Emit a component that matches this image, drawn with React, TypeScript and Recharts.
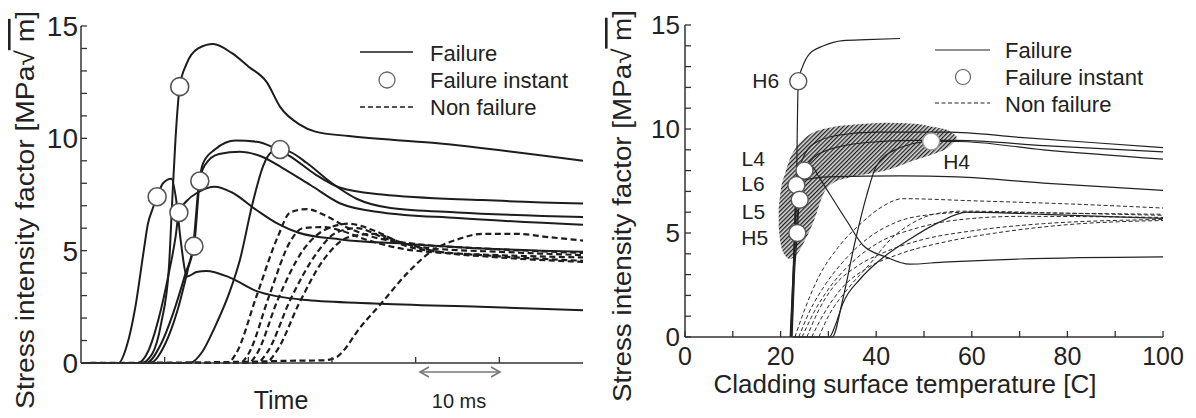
import React from "react";
import { ComposedChart, Line, Scatter, Area, XAxis, YAxis } from "recharts";

type Pt = [number, number];

const FONT = '"Liberation Sans", Arial, Helvetica, sans-serif';
const INK = "#1d1d1d";

// ---------- left panel: stress intensity factor vs time [ms] ----------
const timeTicksBottom = [10, 20, 30, 40, 50];
const timeTicksTop = [15, 30, 45];
const kTicks = [0, 1, 2, 3, 4, 5, 6, 7, 8, 9, 10, 11, 12, 13, 14, 15];
const kTicksQuarter = [3.75, 7.5, 11.25];

const timeH6: Pt[] = [[0, 0], [7.2, 0], [8.5, 0.4], [9.6, 1.8], [10.5, 4.2], [10.9, 7.2], [11.3, 10], [11.8, 12.3], [12.6, 13.3], [14, 14.0], [15.8, 14.2], [18, 13.8], [20, 13.2], [22.2, 12.5], [23.8, 11.4], [26.2, 10.6], [28, 10.3], [32, 10.1], [42, 9.8], [60, 9.0]];
const timeS2: Pt[] = [[0, 0], [7.8, 0], [9.5, 0.8], [11, 2.2], [12.5, 4], [13.4, 5.2], [14.1, 8.0], [14.6, 8.9], [16, 9.5], [18.5, 9.9], [21, 9.85], [23, 9.6], [25, 9.2], [28, 8.4], [31, 7.8], [36, 7.5], [48, 7.25], [60, 7.1]];
const timeS3: Pt[] = [[0, 0], [8.3, 0], [10, 0.8], [11.5, 2.3], [12.8, 4.2], [13.6, 5.5], [14.2, 8.1], [14.8, 8.8], [16.5, 9.3], [19, 9.4], [21.5, 9.2], [24, 8.7], [27.5, 7.9], [31, 7.1], [36, 6.7], [45, 6.45], [60, 6.15]];
const timeS4: Pt[] = [[0, 0], [6.8, 0], [8, 0.5], [9.3, 2], [10.5, 4], [11.3, 5.6], [11.7, 6.7], [12.6, 7.2], [14, 7.6], [16, 7.85], [18, 7.6], [21, 6.8], [23.5, 6.2], [26, 5.8], [31, 5.5], [39, 5.3], [48, 5.1], [60, 4.95]];
const timeS5: Pt[] = [[0, 0], [13, 0], [14.5, 0.5], [16, 1.6], [17.8, 3.2], [19, 4.6], [20.5, 7.1], [21.8, 8.8], [22.8, 9.4], [23.8, 9.5], [25, 9.4], [27, 8.9], [30, 8.0], [33, 7.3], [37, 6.9], [45, 6.7], [60, 6.5]];
const timeS6: Pt[] = [[0, 0], [4.5, 0], [5.5, 0.8], [6.5, 2.5], [7.5, 5], [8.0, 6.2], [8.5, 6.8], [9.1, 7.4], [9.8, 8.0], [10.8, 8.2], [11.4, 7.2], [11.9, 5.5], [12.7, 3.85], [13.8, 4.05], [15, 4.1], [17.8, 3.8], [21, 3.2], [27, 2.8], [35, 2.65], [47.7, 2.5], [60, 2.35]];

const timeD1: Pt[] = [[0, 0], [17.5, 0], [18.5, 0.4], [21, 3], [23.5, 5.6], [25, 6.7], [27, 6.85], [29, 6.6], [32, 6.0], [35, 5.6], [40, 5.3], [48, 5.1], [60, 4.9]];
const timeD2: Pt[] = [[0, 0], [19, 0], [20, 0.4], [22.5, 3], [25, 5.4], [26.5, 6.0], [29, 6.05], [31, 5.9], [34, 5.5], [40, 5.0], [50, 4.8], [60, 4.7]];
const timeD3: Pt[] = [[0, 0], [20, 0], [21, 0.4], [23.5, 2.8], [26.5, 5.0], [29, 5.9], [32, 6.2], [35, 5.9], [38, 5.4], [42, 5.1], [50, 4.95], [60, 4.8]];
const timeD4: Pt[] = [[0, 0], [21, 0], [22.3, 0.5], [25, 2.8], [28, 4.8], [30.5, 5.8], [33, 6.0], [36, 5.6], [40, 5.1], [50, 4.75], [60, 4.55]];
const timeD5: Pt[] = [[0, 0], [22, 0], [23.5, 0.6], [26, 2.6], [29, 4.6], [32, 5.6], [35, 5.75], [38, 5.4], [42, 5.0], [50, 4.7], [60, 4.5]];
const timeD6: Pt[] = [[0, 0], [19, 0.05], [25, 0.1], [29, 0.12], [30.5, 0.25], [31.5, 0.6], [33, 1.4], [36, 2.7], [39, 4.0], [42, 5.0], [45, 5.5], [48, 5.75], [52, 5.75], [56, 5.6], [60, 5.45]];

const timeFailureCurves = [timeH6, timeS2, timeS3, timeS4, timeS5, timeS6];
const timeNonFailureCurves = [timeD1, timeD2, timeD3, timeD4, timeD5, timeD6];

const timeInstantX = [9.1, 11.8, 11.7, 14.2, 13.5, 23.8];
const timeInstantK = [7.4, 12.3, 6.7, 8.1, 5.2, 9.5];

// ---------- right panel: stress intensity factor vs cladding temperature ----------
const tempTicks = [0, 10, 20, 30, 40, 50, 60, 70, 80, 90, 100];
const tempTicksTop = [10, 20, 30, 40, 50, 60, 70, 80, 90];
const kTicksInner = [1, 2, 3, 4, 5, 6, 7, 8, 9, 10, 11, 12, 13, 14];

const tempH6: Pt[] = [[22.3, 0], [22.8, 3], [23.3, 7], [23.7, 12.3], [24.6, 13.0], [26, 13.6], [29, 14.0], [33, 14.25], [38, 14.3], [45, 14.35]];
const tempL4: Pt[] = [[22.0, 0], [22.6, 3], [23.6, 6], [25.0, 8.0], [26.5, 8.2], [28, 7.7], [30.2, 6.9], [33.8, 5.6], [37.3, 4.4], [42, 3.85], [47, 3.5], [54, 3.6], [70, 3.75], [100, 3.85]];
const tempS1: Pt[] = [[22.2, 0], [22.7, 3], [23.3, 6.5], [24.5, 8.5], [27, 9.3], [32, 9.7], [40, 9.85], [55, 9.85], [70, 9.6], [100, 9.1]];
const tempS2: Pt[] = [[22.4, 0], [22.9, 3], [23.5, 5.0], [24, 7.0], [26, 8.4], [30, 9.0], [38, 9.35], [48, 9.45], [57, 9.45], [75, 9.2], [100, 8.9]];
const tempS3: Pt[] = [[22.5, 0], [30.8, 0], [33, 1.8], [35.5, 4.5], [38, 6.8], [40, 8.2], [44, 9.0], [51.5, 9.4], [57, 9.4], [75, 9.0], [100, 8.55]];
const tempS4: Pt[] = [[22.1, 0], [22.6, 3], [23.3, 7.3], [25, 7.55], [30, 7.7], [45, 7.75], [57, 7.7], [75, 7.4], [100, 7.05]];
const tempS5: Pt[] = [[22.6, 0], [30.2, 0], [31.5, 0.6], [33, 1.6], [36.7, 2.8], [40.8, 3.7], [47, 4.7], [53, 5.5], [59, 6.0], [75, 5.9], [100, 5.7]];

const tempD1: Pt[] = [[23, 0], [25, 1.3], [28, 2.9], [32, 4.3], [37, 5.5], [41.5, 6.3], [45.5, 6.65], [60, 6.55], [80, 6.4], [100, 6.2]];
const tempD2: Pt[] = [[23.8, 0], [26, 1.2], [29, 2.4], [33, 3.6], [38, 4.7], [44, 5.5], [52, 5.9], [60, 6.0], [80, 5.95], [100, 5.9]];
const tempD3: Pt[] = [[24.5, 0], [27, 1.2], [30, 2.3], [35, 3.6], [41, 4.6], [48, 5.2], [56, 5.6], [70, 5.8], [100, 5.75]];
const tempD4: Pt[] = [[25.5, 0], [28, 1.3], [31, 2.4], [36, 3.4], [42, 4.1], [50, 4.7], [60, 5.1], [75, 5.45], [100, 5.65]];
const tempD5: Pt[] = [[26.5, 0], [29, 1.1], [33, 2.4], [38, 3.3], [45, 4.0], [55, 4.6], [65, 5.0], [80, 5.4], [100, 5.6]];
const tempD6: Pt[] = [[28, 0], [30, 1.0], [34, 2.3], [39, 3.6], [43, 4.7], [47, 5.4], [52, 5.9], [58, 6.05], [80, 5.95], [100, 5.85]];

const tempFailureCurves = [tempH6, tempL4, tempS1, tempS2, tempS3, tempS4, tempS5];
const tempNonFailureCurves = [tempD1, tempD2, tempD3, tempD4, tempD5, tempD6];

const tempInstantNames = ["H6", "L4", "L6", "L5", "H5", "H4"];
const tempInstantX = [23.7, 25.0, 23.3, 24.0, 23.5, 51.5];
const tempInstantK = [12.3, 8.0, 7.3, 6.6, 5.0, 9.4];

// hatched failure zone (lower / upper edge along temperature)
const bandT = [19.6, 20.0, 21.0, 22.0, 23.5, 25, 27, 29, 31, 35, 42, 48, 52, 55, 56.8];
const bandLow = [5.3, 4.5, 3.9, 3.75, 4.0, 4.6, 5.6, 6.9, 7.4, 7.7, 8.0, 8.5, 8.8, 9.1, 9.5];
const bandHigh = [6.2, 7.0, 7.9, 8.6, 9.2, 9.55, 9.85, 10.0, 10.1, 10.2, 10.3, 10.25, 10.1, 9.95, 9.65];

const toPts = (arr: Pt[]) => arr.map(([x, k]) => ({ x, k }));

const axisLine = { stroke: "#333", strokeWidth: 1.5 };
const tickLine = { stroke: "#333", strokeWidth: 1.3 };

// label placement next to the failure-instant circles (px offsets)
const labelOffset: Record<string, [number, number]> = {
  H6: [-46, 7],
  L4: [-63, -5],
  L6: [-55, 6],
  L5: [-58, 19],
  H5: [-56, 12],
  H4: [12, 28],
};

function TimePanel() {
  const instants = timeInstantX.map((x, i) => ({ x, k: timeInstantK[i] }));
  return (
    <ComposedChart width={600} height={418} margin={{ top: 26, right: 17, bottom: 15, left: 21 }}>
      <XAxis
        xAxisId={0}
        dataKey="x"
        type="number"
        domain={[0, 60]}
        ticks={timeTicksBottom}
        interval={0}
        tickFormatter={() => ""}
        tickSize={-6}
        height={40}
        axisLine={axisLine}
        tickLine={tickLine}
      />
      <XAxis
        xAxisId="top"
        orientation="top"
        type="number"
        domain={[0, 60]}
        ticks={timeTicksTop}
        interval={0}
        tickFormatter={() => ""}
        tickSize={-6}
        height={0}
        axisLine={axisLine}
        tickLine={tickLine}
      />
      <YAxis
        yAxisId={0}
        dataKey="k"
        type="number"
        domain={[0, 15]}
        ticks={kTicks}
        interval={0}
        tickFormatter={(v: number) => (v % 5 === 0 ? String(v) : "")}
        tickSize={-6}
        tickMargin={9}
        width={60}
        axisLine={axisLine}
        tickLine={tickLine}
        tick={{ fontSize: 28, fill: "#222", fontFamily: FONT }}
      />
      <YAxis
        yAxisId="right"
        orientation="right"
        type="number"
        domain={[0, 15]}
        ticks={kTicksQuarter}
        interval={0}
        tickFormatter={() => ""}
        tickSize={-6}
        width={0}
        axisLine={axisLine}
        tickLine={tickLine}
      />
      {timeNonFailureCurves.map((c, i) => (
        <Line
          key={"d" + i}
          data={toPts(c)}
          dataKey="k"
          type="monotone"
          stroke={INK}
          strokeWidth={2.2}
          strokeDasharray="6 3.5"
          dot={false}
          activeDot={false}
          isAnimationActive={false}
        />
      ))}
      {timeFailureCurves.map((c, i) => (
        <Line
          key={"s" + i}
          data={toPts(c)}
          dataKey="k"
          type="monotone"
          stroke={INK}
          strokeWidth={2}
          dot={false}
          activeDot={false}
          isAnimationActive={false}
        />
      ))}
      <Scatter
        data={instants}
        dataKey="k"
        isAnimationActive={false}
        shape={(p: any) => (
          <circle cx={p.cx} cy={p.cy} r={9} fill="#fff" stroke="#555" strokeWidth={1.6} />
        )}
      />
    </ComposedChart>
  );
}

function TempPanel() {
  const instants = tempInstantX.map((x, i) => ({ x, k: tempInstantK[i], name: tempInstantNames[i] }));
  const band = bandT.map((x, i) => ({ x, band: [bandLow[i], bandHigh[i]] }));
  return (
    <ComposedChart width={596} height={418} margin={{ top: 25, right: 33, bottom: 41, left: 25 }}>
      <defs>
        <pattern id="hatch" patternUnits="userSpaceOnUse" width={3} height={3} patternTransform="rotate(45)">
          <rect x={0} y={0} width={3} height={3} fill="#d4d4d4" />
          <rect x={0} y={0} width={1.25} height={3} fill="#1e1e1e" />
        </pattern>
      </defs>
      <XAxis
        xAxisId={0}
        dataKey="x"
        type="number"
        domain={[0, 100]}
        ticks={tempTicks}
        interval={0}
        tickFormatter={(v: number) => (v % 20 === 0 ? String(v) : "")}
        tickSize={-6}
        tickMargin={16}
        height={40}
        axisLine={axisLine}
        tickLine={tickLine}
        tick={{ fontSize: 25, fill: "#222", fontFamily: FONT }}
      />
      <XAxis
        xAxisId="top"
        orientation="top"
        type="number"
        domain={[0, 100]}
        ticks={tempTicksTop}
        interval={0}
        tickFormatter={() => ""}
        tickSize={-6}
        height={0}
        axisLine={axisLine}
        tickLine={tickLine}
      />
      <YAxis
        yAxisId={0}
        dataKey="k"
        type="number"
        domain={[0, 15]}
        ticks={kTicks}
        interval={0}
        tickFormatter={(v: number) => (v % 5 === 0 ? String(v) : "")}
        tickSize={-6}
        tickMargin={11}
        width={60}
        axisLine={axisLine}
        tickLine={tickLine}
        tick={{ fontSize: 26, fill: "#222", fontFamily: FONT }}
      />
      <YAxis
        yAxisId="right"
        orientation="right"
        type="number"
        domain={[0, 15]}
        ticks={kTicksInner}
        interval={0}
        tickFormatter={() => ""}
        tickSize={-6}
        width={0}
        axisLine={axisLine}
        tickLine={tickLine}
      />
      <Area
        data={band}
        dataKey="band"
        type="monotone"
        stroke="none"
        fill="url(#hatch)"
        fillOpacity={1}
        isAnimationActive={false}
        activeDot={false}
      />
      {tempNonFailureCurves.map((c, i) => (
        <Line
          key={"d" + i}
          data={toPts(c)}
          dataKey="k"
          type="monotone"
          stroke="#2a2a2a"
          strokeWidth={1}
          strokeDasharray="4 2.5"
          dot={false}
          activeDot={false}
          isAnimationActive={false}
        />
      ))}
      {tempFailureCurves.map((c, i) => (
        <Line
          key={"s" + i}
          data={toPts(c)}
          dataKey="k"
          type="monotone"
          stroke="#222"
          strokeWidth={1.2}
          dot={false}
          activeDot={false}
          isAnimationActive={false}
        />
      ))}
      <Scatter
        data={instants}
        dataKey="k"
        isAnimationActive={false}
        shape={(p: any) => {
          const name = p.payload?.name ?? "";
          const [dx, dy] = labelOffset[name] ?? [0, 0];
          return (
            <g>
              <circle cx={p.cx} cy={p.cy} r={8.5} fill="#fff" stroke={name === "H4" ? "#999" : "#555"} strokeWidth={1.4} />
              <text x={p.cx + dx} y={p.cy + dy} fontSize={21} fill="#222" fontFamily={FONT}>
                {name}
              </text>
            </g>
          );
        }}
      />
    </ComposedChart>
  );
}

function Overlay() {
  return (
    <svg width={1196} height={418} style={{ position: "absolute", left: 0, top: 0, pointerEvents: "none" }} fontFamily={FONT} fill="#222">
      {/* axis titles */}
      <text transform="translate(34,210) rotate(-90)" textAnchor="middle" fontSize={26} textLength={398} lengthAdjust="spacingAndGlyphs">
        Stress intensity factor [MPa√<tspan style={{ textDecoration: "overline" }}> m</tspan>]
      </text>
      <text transform="translate(631,206) rotate(-90)" textAnchor="middle" fontSize={26} textLength={392} lengthAdjust="spacingAndGlyphs">
        Stress intensity factor [MPa√<tspan style={{ textDecoration: "overline" }}> m</tspan>]
      </text>
      <text x={281} y={409} textAnchor="middle" fontSize={25}>Time</text>
      <text x={459} y={408} textAnchor="middle" fontSize={20}>10 ms</text>
      <text x={905} y={393} textAnchor="middle" fontSize={26}>Cladding surface temperature [C]</text>

      {/* 10 ms scale arrow */}
      <g stroke="#777" strokeWidth={1.6} fill="none">
        <line x1={420} y1={372} x2={500} y2={372} />
        <polyline points="429,367 420,372 429,377" />
        <polyline points="491,367 500,372 491,377" />
      </g>

      {/* left legend */}
      <g stroke={INK} strokeWidth={1.5}>
        <line x1={360} y1={52} x2={413} y2={52} />
        <line x1={360} y1={107} x2={413} y2={107} strokeDasharray="5 3" />
      </g>
      <circle cx={387} cy={80} r={8} fill="#fff" stroke="#666" strokeWidth={1.3} />
      <text x={430} y={61} fontSize={22}>Failure</text>
      <text x={430} y={88} fontSize={22}>Failure instant</text>
      <text x={430} y={115} fontSize={22}>Non failure</text>

      {/* right legend */}
      <g stroke="#222" strokeWidth={1.2}>
        <line x1={935} y1={50} x2={990} y2={50} />
        <line x1={935} y1={103} x2={990} y2={103} strokeDasharray="4 2.5" />
      </g>
      <circle cx={963} cy={77} r={7.5} fill="#fff" stroke="#666" strokeWidth={1.2} />
      <text x={1005} y={58} fontSize={22}>Failure</text>
      <text x={1005} y={85} fontSize={22}>Failure instant</text>
      <text x={1005} y={112} fontSize={22}>Non failure</text>
    </svg>
  );
}

export default function App() {
  return (
    <div style={{ position: "absolute", left: 0, top: 0, width: 1196, height: 418, background: "#fff", overflow: "hidden", fontFamily: FONT }}>
      <div style={{ position: "absolute", left: 0, top: 0 }}>
        <TimePanel />
      </div>
      <div style={{ position: "absolute", left: 600, top: 0 }}>
        <TempPanel />
      </div>
      <Overlay />
    </div>
  );
}
